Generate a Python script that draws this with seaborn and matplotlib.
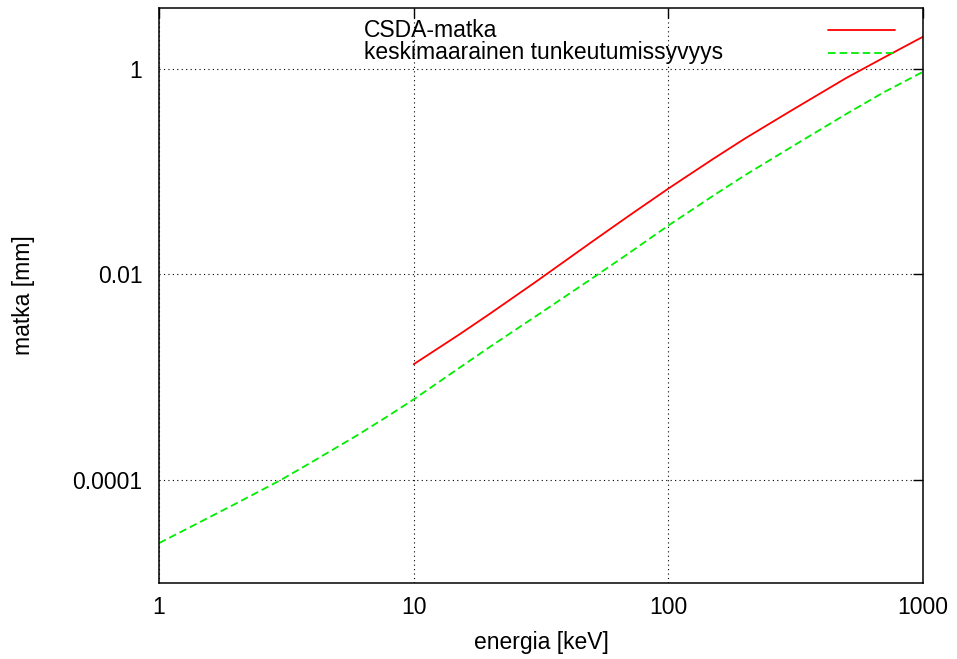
import matplotlib
matplotlib.use("Agg")
import matplotlib.pyplot as plt
import seaborn as sns
import pandas as pd
from matplotlib.ticker import FixedLocator, FixedFormatter, NullLocator

# Data
csda_energy = [10, 15, 20, 30, 50, 70, 100, 150, 200, 300, 500, 700, 1000]
csda_range = [1.34e-3, 2.58e-3, 4.18e-3, 8.4e-3, 0.0207, 0.0372, 0.0684,
              0.133, 0.210, 0.385, 0.815, 1.28, 2.05]

depth_energy = [1, 1.5, 2, 3, 4, 6, 8, 10, 15, 20, 30, 50, 70, 100, 150,
                200, 300, 500, 700, 1000]
depth_value = [2.44e-5, 4.09e-5, 5.9e-5, 1.0e-4, 1.51e-4, 2.73e-4, 4.26e-4,
               6.1e-4, 1.22e-3, 1.99e-3, 3.89e-3, 9.1e-3, 0.0161, 0.0299,
               0.0583, 0.0923, 0.170, 0.364, 0.589, 0.935]

series_labels = ["CSDA-matka", "keskimaarainen tunkeutumissyvyys"]
x_ticks = [1, 10, 100, 1000]
x_tick_labels = ["1", "10", "100", "1000"]
y_ticks = [1e-4, 1e-2, 1]
y_tick_labels = ["0.0001", "0.01", "1"]
x_label = "energia [keV]"
y_label = "matka [mm]"

FS = 16.5

sns.set_style("white")
plt.rcParams["font.family"] = ["Liberation Sans", "DejaVu Sans"]

fig = plt.figure(figsize=(9.57, 6.59), dpi=100)
ax = fig.add_axes([159 / 957, 1 - 583 / 659, (923 - 159) / 957, (583 - 8) / 659])

df_csda = pd.DataFrame({"E": csda_energy, "R": csda_range})
df_depth = pd.DataFrame({"E": depth_energy, "R": depth_value})

sns.lineplot(data=df_csda, x="E", y="R", ax=ax, color="#ff0000", lw=1.3)
sns.lineplot(data=df_depth, x="E", y="R", ax=ax, color="#00ee00", lw=1.3,
             dashes=False)
ax.lines[-1].set_dashes((4.2, 2.2))

ax.set_xscale("log")
ax.set_yscale("log")
ax.set_xlim(1, 1000)
ax.set_ylim(1.0e-5, 3.9)

ax.xaxis.set_major_locator(FixedLocator(x_ticks))
ax.xaxis.set_major_formatter(FixedFormatter(x_tick_labels))
ax.yaxis.set_major_locator(FixedLocator(y_ticks))
ax.yaxis.set_major_formatter(FixedFormatter(y_tick_labels))
ax.xaxis.set_minor_locator(NullLocator())
ax.yaxis.set_minor_locator(NullLocator())

ax.tick_params(axis="both", which="major", direction="in", length=7, width=1.0,
               top=True, right=True, labelsize=FS, colors="black")
ax.tick_params(axis="x", pad=9)
ax.tick_params(axis="y", pad=12)

ax.grid(True, which="major", color="black", linestyle=(0, (1, 3)), lw=0.8)
for sp in ax.spines.values():
    sp.set_color("black")
    sp.set_linewidth(1.1)

ax.set_xlabel(x_label, fontsize=FS, labelpad=9, color="black")
ax.set_ylabel(y_label, fontsize=FS, labelpad=27, color="black")

# Legend (gnuplot style: text left, sample on right)
row_y = [0.9617, 0.9217]
ax.text(0.268, 0.9496, series_labels[0], transform=ax.transAxes,
        fontsize=FS, ha="left", va="baseline", color="black")
ax.text(0.268, 0.9113, series_labels[1], transform=ax.transAxes,
        fontsize=FS, ha="left", va="baseline", color="black")
ax.plot([0.876, 0.963], [row_y[0]] * 2, transform=ax.transAxes,
        color="#ff0000", lw=1.3)
l2, = ax.plot([0.876, 0.963], [row_y[1]] * 2, transform=ax.transAxes,
              color="#00ee00", lw=1.3)
l2.set_dashes((4.2, 2.2))

fig.savefig("out.png", dpi=100)
